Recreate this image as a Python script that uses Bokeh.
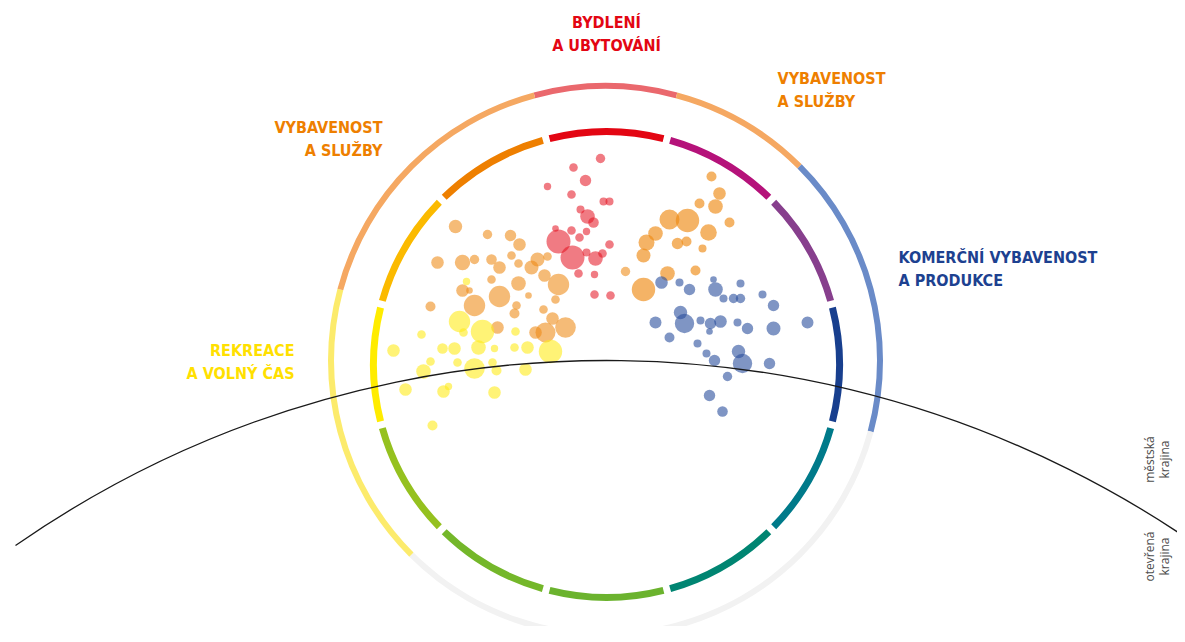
import numpy as np
from bokeh.plotting import figure
from bokeh.models import Range1d, Label, ColumnDataSource
from bokeh.embed import file_html
from bokeh.resources import INLINE

# ---------------- data (chart units: x to the right, y downward from top, r = bubble radius)
bydleni_x = [600, 573, 585, 547, 571, 603, 609, 580, 587, 593, 555, 571, 586, 579, 558, 609, 572, 595, 602, 586, 578, 594, 594, 610]
bydleni_y = [158, 167, 180, 186, 194, 201, 201, 209, 216, 222, 228, 230, 231, 237, 241, 244, 257, 258, 253, 252, 273, 274, 294, 295]
bydleni_r = [4.7, 4.3, 5.7, 3.7, 4.3, 4, 4, 4, 7.3, 5.3, 3.3, 4.3, 3.7, 4.3, 12, 4.3, 12, 7.3, 4.3, 4, 4.3, 3.7, 4.3, 4.3]

sluzby_l_x = [455, 487, 510, 519, 437, 462, 474, 491, 499, 511, 518, 537, 531, 547, 544, 558, 491, 518, 462, 469, 499, 528, 430, 474, 516, 514, 555, 543, 552, 497, 565, 545, 535, 625]
sluzby_l_y = [226, 234, 235, 244, 262, 262, 259, 259, 267, 255, 263, 259, 267, 256, 275, 284, 279, 283, 290, 290, 296, 295, 306, 305, 305, 313, 299, 309, 318, 327, 327, 332, 332, 271]
sluzby_l_r = [6.7, 4.7, 5.7, 6.3, 6.3, 7.7, 4.7, 5.3, 6.3, 4.3, 4.3, 7, 7, 4.3, 6.3, 10.7, 4.3, 7.3, 6.3, 3.3, 10.7, 3.3, 5, 10.7, 4.3, 5, 4.3, 4.3, 6.3, 6.3, 10.3, 10, 6.3, 4.7]

sluzby_r_x = [711, 719, 699, 715, 669, 687, 729, 708, 655, 646, 677, 686, 702, 643, 667, 695, 643]
sluzby_r_y = [176, 193, 203, 206, 219, 220, 222, 232, 233, 242, 243, 241, 248, 255, 273, 270, 289]
sluzby_r_r = [5, 6.3, 5, 7.3, 10, 11.7, 5, 8.3, 7.3, 8, 5.7, 5, 4, 7, 7.3, 5, 11.7]

rekreace_x = [466, 459, 482, 463, 515, 421, 393, 442, 454, 478, 494, 514, 527, 550, 430, 457, 492, 423, 474, 496, 525, 405, 443, 448, 494, 432]
rekreace_y = [281, 321, 331, 332, 331, 334, 350, 348, 348, 347, 348, 347, 347, 351, 361, 362, 362, 371, 368, 370, 369, 389, 391, 386, 392, 425]
rekreace_r = [3.7, 10.7, 11.7, 4.3, 4.3, 4.3, 6.3, 5.3, 6.3, 7.3, 3.7, 4.3, 6.3, 11.7, 4.3, 4.3, 4.3, 7.3, 10.3, 5, 6.3, 6.3, 6.3, 3.7, 6.3, 5]

komercni_x = [661, 679, 689, 713, 715, 740, 723, 733, 740, 762, 773, 680, 684, 655, 700, 710, 720, 709, 737, 747, 773, 807, 669, 697, 706, 714, 738, 742, 769, 727, 709, 722]
komercni_y = [282, 282, 289, 279, 289, 283, 298, 298, 298, 294, 305, 312, 323, 322, 320, 323, 321, 331, 322, 328, 328, 322, 337, 343, 353, 360, 351, 363, 363, 376, 395, 411]
komercni_r = [6.3, 4, 5.7, 3.3, 7.3, 4, 4, 4.7, 4.7, 4, 5.7, 6.7, 9.7, 6, 4, 5.7, 6.3, 3.3, 4, 5.7, 7, 6, 5, 4, 4, 5.7, 6.7, 9.7, 5.7, 4.7, 5.7, 5.3]

# outer ring segments (compass degrees, clockwise from top)
outer_from = [345, 15, 45, 105, 225, 285]
outer_to = [375, 45, 105, 225, 285, 345]
outer_colors = ["#EA686D", "#F5A862", "#6A8BC8", "#F2F2F2", "#FCEB6C", "#F5A862"]

# inner ring segments (centres, compass degrees)
inner_centers = [0, 30, 60, 90, 120, 150, 180, 210, 240, 270, 300, 330]
inner_colors = ["#E30613", "#B5127A", "#873F8D", "#183F8E", "#007A8A", "#008572",
                "#6BB32E", "#74B72A", "#95C11F", "#FFEC00", "#FBBA00", "#EE7F00"]

labels_text = [["BYDLENÍ", "A UBYTOVÁNÍ"], ["VYBAVENOST", "A SLUŽBY"], ["VYBAVENOST", "A SLUŽBY"],
               ["KOMERČNÍ VYBAVENOST", "A PRODUKCE"], ["REKREACE", "A VOLNÝ ČAS"]]
zone_text = [["městská", "krajina"], ["otevřená", "krajina"]]

# ---------------- figure
W, H = 1177, 626
p = figure(width=W, height=H, x_range=Range1d(0, W), y_range=Range1d(-H, 0),
           x_axis_type=None, y_axis_type=None, output_backend="svg", toolbar_location=None,
           min_border=0, outline_line_color=None)
p.background_fill_color = "white"
p.border_fill_color = "white"

def wedge_src(froms, tos, colors, cx, cy):
    st = [np.radians(90 - t) for t in tos]
    en = [np.radians(90 - f) for f in froms]
    return ColumnDataSource(dict(x=[cx] * len(st), y=[cy] * len(st), s=st, e=en, c=colors))

# outer ring
OCX, OCY, OR, OW = 605, -360, 274.5, 6
p.annular_wedge(x="x", y="y", inner_radius=OR - OW / 2, outer_radius=OR + OW / 2,
                start_angle="s", end_angle="e", fill_color="c", line_color=None,
                direction="anticlock", source=wedge_src(outer_from, outer_to, outer_colors, OCX, OCY))

# inner ring
ICX, ICY, IR, IW = 606, -364, 233, 7
half = 14.15
p.annular_wedge(x="x", y="y", inner_radius=IR - IW / 2, outer_radius=IR + IW / 2,
                start_angle="s", end_angle="e", fill_color="c", line_color=None,
                direction="anticlock",
                source=wedge_src([c - half for c in inner_centers], [c + half for c in inner_centers],
                                 inner_colors, ICX, ICY))

# bubbles
def bubbles(xs, ys, rs, color, alpha):
    src = ColumnDataSource(dict(x=xs, y=[-v for v in ys], r=rs))
    p.circle(x="x", y="y", radius="r", source=src, fill_color=color, fill_alpha=alpha, line_color=None)

bubbles(sluzby_l_x, sluzby_l_y, sluzby_l_r, "#EE8A14", 0.58)
bubbles(rekreace_x, rekreace_y, rekreace_r, "#FFEB1A", 0.6)
bubbles(bydleni_x, bydleni_y, bydleni_r, "#E30F1E", 0.55)
bubbles(sluzby_r_x, sluzby_r_y, sluzby_r_r, "#EE8A14", 0.65)
bubbles(komercni_x, komercni_y, komercni_r, "#2A4E9C", 0.6)

# horizon line (arc of a large circle)
HR = 1036.5
HCX, HCY = 606, -360 - HR
a_left = np.arctan2(-545 - HCY, 15 - HCX)
p.arc(x=[HCX], y=[HCY], radius=HR, start_angle=np.radians(28), end_angle=a_left,
      direction="anticlock", line_color="#1A1A1A", line_width=1.3)

# category labels
FONT = "DejaVu Sans Condensed"
FS = "16px"
specs = [  # (x, y baseline, align, color)
    (606, 22, "center", "#E30613"),
    (777, 78, "left", "#EE7F00"),
    (382, 127, "right", "#EE7F00"),
    (898, 257, "left", "#1D4190"),
    (294, 350, "right", "#FFE000"),
]
for (x, yb, al, col), lines in zip(specs, labels_text):
    for i, t in enumerate(lines):
        p.add_layout(Label(x=x, y=-(yb + 23 * i), text=t, text_align=al, text_baseline="alphabetic",
                           text_font=FONT, text_font_style="bold", text_font_size=FS, text_color=col))

# zone labels (rotated)
for (yc, lines) in zip([459, 556], zone_text):
    for i, t in enumerate(lines):
        p.add_layout(Label(x=1149 + 15 * i, y=-yc, text=t, angle=np.pi / 2, text_align="center",
                           text_baseline="alphabetic", text_font="Open Sans", text_font_size="12px",
                           text_color="#4D4D4D"))

open("out.html", "w").write(file_html(p, INLINE))
